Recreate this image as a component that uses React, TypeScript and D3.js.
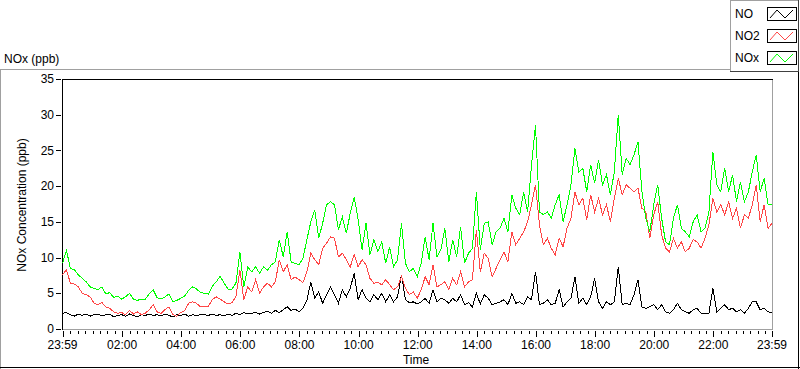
import React from 'react';
import * as d3 from 'd3';

// one reading every 8 minutes, from 23:59 to 23:59 the next day
const STEP_MIN = 8;

const NO = [
  2.2, 2.3, 2.0, 1.8, 2.1, 1.9, 2.1, 1.8, 2.0, 2.1, 1.8, 2.0, 2.1, 1.7, 1.9, 2.0, 1.8, 2.1, 1.9, 1.7, 2.0, 1.9, 2.1, 1.9, 2.0, 1.8, 2.1, 1.9, 1.7, 2.0, 1.9, 2.1, 1.8, 2.0, 1.9, 2.0,
  2.0, 1.9, 2.1, 1.9, 2.0, 1.8, 2.1, 1.9, 2.2, 2.0, 2.3, 2.1, 2.2, 2.3, 2.1, 2.3, 2.5, 2.2, 2.6, 2.3, 2.7, 3.1, 2.6, 2.8, 2.4, 2.9, 4.0, 6.6, 4.3, 5.2, 3.6, 4.8, 5.9, 4.8, 3.6, 5.5,
  4.5, 5.7, 7.8, 4.1, 5.5, 4.3, 3.8, 4.8, 4.1, 5.0, 3.8, 4.8, 3.8, 4.5, 7.6, 4.1, 3.7, 3.8, 3.5, 3.8, 4.3, 3.6, 5.5, 3.8, 4.3, 4.1, 3.6, 4.3, 3.8, 4.8, 3.4, 3.7, 3.1, 5.0, 3.5, 4.8,
  4.3, 3.4, 3.6, 3.8, 4.1, 3.4, 5.0, 3.6, 3.8, 3.4, 4.5, 4.1, 8.0, 3.4, 3.6, 4.1, 3.4, 3.6, 5.5, 3.1, 3.8, 4.3, 7.3, 3.6, 4.3, 3.4, 4.5, 7.1, 3.8, 2.9, 3.8, 3.4, 3.8, 8.7, 3.4, 3.6,
  3.4, 4.8, 6.9, 3.1, 2.9, 3.1, 3.4, 2.7, 3.4, 2.4, 2.2, 2.7, 3.6, 2.7, 2.4, 2.2, 2.7, 2.9, 2.2, 2.1, 2.2, 5.7, 2.4, 2.9, 3.4, 2.7, 2.9, 2.4, 2.7, 2.2, 2.9, 3.8, 3.8, 2.7, 2.9, 2.4, 2.3,
];

const NO2 = [
  7.6, 8.3, 6.4, 6.3, 5.9, 5.0, 4.8, 4.5, 3.6, 3.4, 3.7, 3.1, 2.9, 2.4, 2.2, 2.3, 2.0, 2.6, 2.1, 2.4, 2.0, 2.2, 2.7, 3.4, 2.4, 2.2, 2.7, 3.1, 2.0, 1.8, 2.3, 2.6, 3.6, 3.8, 3.6, 3.1,
  3.1, 3.2, 4.1, 4.5, 4.2, 3.8, 3.5, 3.7, 4.5, 8.3, 4.1, 5.9, 5.2, 6.9, 5.0, 5.9, 6.4, 5.9, 6.6, 9.7, 8.0, 9.0, 6.9, 7.3, 6.9, 6.5, 8.0, 10.6, 9.7, 9.0, 11.3, 12.0, 12.9, 12.7, 10.1, 10.6,
  9.7, 8.7, 10.4, 8.7, 9.7, 9.0, 7.1, 6.4, 6.5, 6.2, 6.9, 6.2, 5.5, 5.9, 7.3, 5.7, 4.8, 5.2, 4.3, 5.5, 7.3, 6.2, 9.0, 5.9, 6.2, 6.6, 5.5, 7.1, 6.2, 8.0, 5.9, 6.6, 6.9, 13.9, 8.0, 10.6,
  9.9, 7.3, 8.5, 9.7, 10.8, 9.4, 13.6, 11.8, 12.7, 13.6, 15.0, 17.4, 20.2, 14.6, 11.8, 12.7, 11.3, 10.4, 12.7, 11.5, 14.1, 15.5, 19.2, 17.4, 18.3, 15.3, 18.8, 16.4, 18.3, 16.0, 17.4, 15.0, 18.3, 21.1, 18.8, 20.2,
  19.7, 19.2, 19.7, 16.9, 16.4, 12.7, 16.0, 17.8, 13.2, 11.3, 10.8, 12.7, 11.3, 12.2, 10.8, 11.3, 12.5, 12.2, 11.3, 12.7, 14.6, 18.3, 16.4, 17.4, 16.0, 17.8, 15.5, 16.9, 14.1, 16.0, 15.5, 17.4, 20.2, 15.0, 17.4, 14.1, 14.8,
];

const NOX = [
  9.2, 11.0, 8.5, 8.3, 7.6, 7.1, 6.6, 5.9, 5.7, 5.5, 5.9, 4.9, 5.1, 4.4, 4.6, 4.2, 4.5, 5.0, 4.2, 4.0, 4.2, 4.2, 4.9, 5.5, 4.4, 4.2, 4.5, 4.9, 3.8, 4.0, 4.3, 4.6, 5.4, 5.9, 5.6, 5.1,
  5.0, 4.9, 6.0, 6.6, 7.4, 6.4, 5.6, 5.6, 6.4, 10.8, 5.9, 8.7, 8.0, 8.7, 7.8, 8.7, 8.2, 9.0, 9.4, 12.5, 10.1, 13.6, 9.4, 9.2, 9.0, 9.9, 12.5, 15.0, 16.7, 12.7, 14.8, 17.4, 17.8, 17.4, 13.9, 15.7,
  13.4, 16.2, 18.5, 15.3, 11.1, 14.8, 10.4, 12.5, 10.8, 12.2, 9.2, 11.5, 8.7, 9.7, 14.8, 9.2, 8.0, 8.5, 7.3, 9.2, 12.9, 9.7, 14.8, 10.1, 11.1, 14.1, 9.4, 12.5, 10.1, 14.3, 9.2, 10.6, 11.3, 19.2, 11.1, 14.8,
  15.0, 11.8, 13.6, 14.1, 15.5, 13.6, 18.8, 16.9, 16.0, 19.2, 16.4, 23.0, 28.5, 16.4, 16.0, 16.4, 15.5, 17.4, 18.8, 15.0, 17.4, 20.2, 25.3, 22.0, 22.5, 19.2, 23.0, 20.4, 23.7, 20.2, 21.6, 18.8, 22.0, 30.0, 21.6, 23.9,
  23.0, 24.4, 26.2, 19.2, 15.5, 13.6, 17.4, 20.2, 15.5, 12.2, 11.8, 15.5, 17.4, 14.1, 13.6, 12.9, 15.0, 16.0, 13.6, 14.1, 16.4, 24.8, 20.2, 19.2, 22.5, 19.2, 21.6, 17.8, 20.6, 17.8, 19.2, 22.0, 24.4, 19.2, 21.1, 17.4, 17.4,
];

const SERIES_NAMES = ['NO', 'NO2', 'NOx'];
const SERIES_COLORS = ['#000000', '#ff4646', '#00ff00'];
const SERIES_VALUES = [NO, NO2, NOX];

const X_TICK_LABELS = ['23:59', '02:00', '04:00', '06:00', '08:00', '10:00', '12:00', '14:00', '16:00', '18:00', '20:00', '22:00', '23:59'];
const Y_TICKS = [0, 5, 10, 15, 20, 25, 30, 35];

const FONT = '"Liberation Sans", Arial, sans-serif';

export default function App() {
  const start = new Date(2020, 0, 1, 23, 59);
  const end = d3.timeMinute.offset(start, 24 * 60);

  const x = d3.scaleTime().domain([start, end]).range([62.5, 772]);
  const y = d3.scaleLinear().domain([0, 35]).range([329, 79]);

  const line = d3.line<number>()
    .x((_, i) => x(d3.timeMinute.offset(start, i * STEP_MIN)))
    .y((d) => y(d));

  const majorDates = X_TICK_LABELS.map((_, i) => {
    if (i === 0) return start;
    if (i === X_TICK_LABELS.length - 1) return end;
    return new Date(2020, 0, 2, i * 2, 0);
  });
  const minorDates = d3.timeMinute.every(15)!.range(start, end);

  const swatchY = [7, 29, 51];

  return (
    <div style={{ position: 'absolute', left: 0, top: 0 }}>
      <svg width={800} height={369} style={{ display: 'block', fontFamily: FONT }}>
        <rect width={800} height={369} fill="#fff" />

        {/* outer frame */}
        <line x1={0} x2={730} y1={69.5} y2={69.5} stroke="#a0a0a0" />
        <line x1={0.5} x2={0.5} y1={69} y2={369} stroke="#a0a0a0" />
        <line x1={0} x2={800} y1={367.5} y2={367.5} stroke="#000" />
        <line x1={798.5} x2={798.5} y1={72} y2={369} stroke="#000" />

        <text x={4} y={63} fontSize={12} fill="#000">NOx (ppb)</text>

        {/* legend */}
        <rect x={730.5} y={0.5} width={68} height={71} fill="#fff" stroke="#a0a0a0" />
        <line x1={730} x2={799} y1={71.5} y2={71.5} stroke="#404040" />
        <line x1={798.5} x2={798.5} y1={0} y2={72} stroke="#404040" />
        {SERIES_NAMES.map((name, i) => {
          const sy = swatchY[i];
          const sx = 767;
          return (
            <g key={name}>
              <text x={735} y={sy + 11} fontSize={12} fill="#000">{name}</text>
              <rect x={sx + 0.5} y={sy + 0.5} width={29} height={13} fill="#fff" stroke="#000" />
              <polyline
                points={`${sx + 3},${sy + 11} ${sx + 10},${sy + 3} ${sx + 18},${sy + 11} ${sx + 26},${sy + 3}`}
                fill="none"
                stroke={SERIES_COLORS[i]}
                strokeWidth={1}
              />
            </g>
          );
        })}

        {/* plot area */}
        <line x1={62} x2={773} y1={329.5} y2={329.5} stroke="#a0a0a0" />
        <line x1={772.5} x2={772.5} y1={79} y2={330} stroke="#a0a0a0" />
        <line x1={62} x2={773} y1={79.5} y2={79.5} stroke="#000" />
        <line x1={62.5} x2={62.5} y1={79} y2={330} stroke="#000" />

        {SERIES_VALUES.map((vals, i) => (
          <path
            key={SERIES_NAMES[i]}
            d={line(vals) || ''}
            fill="none"
            stroke={SERIES_COLORS[i]}
            strokeWidth={1}
            shapeRendering="crispEdges"
          />
        ))}

        {/* y axis */}
        {Y_TICKS.map((t) => (
          <g key={t}>
            <line x1={56} x2={61} y1={Math.round(y(t)) + 0.5} y2={Math.round(y(t)) + 0.5} stroke="#000" />
            <text x={54} y={y(t)} dy="0.35em" textAnchor="end" fontSize={12} fill="#000">{t}</text>
          </g>
        ))}
        <text
          transform="translate(26,205) rotate(-90)"
          textAnchor="middle"
          fontSize={12}
          fill="#000"
        >
          NOx Concentration (ppb)
        </text>

        {/* x axis */}
        {minorDates.map((d) => (
          <line key={+d} x1={Math.round(x(d)) + 0.5} x2={Math.round(x(d)) + 0.5} y1={331} y2={334} stroke="#000" />
        ))}
        {majorDates.map((d, i) => (
          <g key={i}>
            <line x1={Math.round(x(d)) + 0.5} x2={Math.round(x(d)) + 0.5} y1={331} y2={337} stroke="#000" />
            <text x={x(d)} y={349} textAnchor="middle" fontSize={12} fill="#000">{X_TICK_LABELS[i]}</text>
          </g>
        ))}
        <text x={416} y={364} textAnchor="middle" fontSize={12} fill="#000">Time</text>
      </svg>
    </div>
  );
}
